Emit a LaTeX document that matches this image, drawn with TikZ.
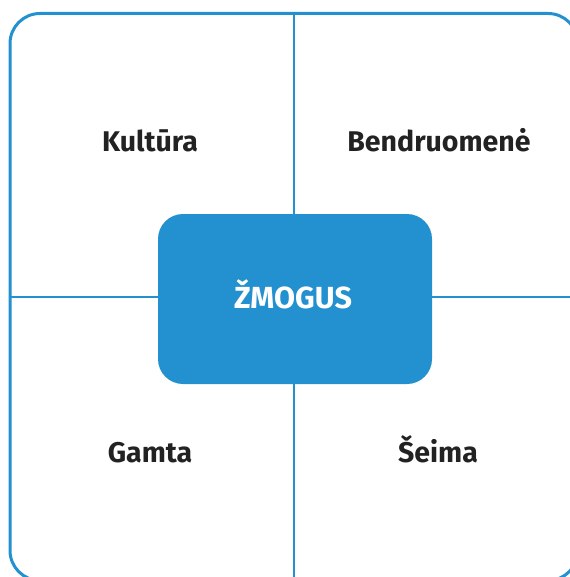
\documentclass[tikz,border=0pt]{standalone}
\usepackage{fontspec}
\setmainfont{Fira Sans}
\definecolor{frameblue}{RGB}{35,145,208}
\definecolor{textgray}{RGB}{34,34,34}

\begin{document}
\begin{tikzpicture}[x=1pt,y=-1pt]
\tikzstyle{every node}=[font=\bfseries\fontsize{28.5}{32}\selectfont, text=textgray, inner sep=0pt, anchor=base]
\useasboundingbox (0,0) rectangle (569,577);
\node[draw=frameblue, line width=3pt, rounded corners=30pt, anchor=center,
minimum width=568pt, minimum height=567pt] (frame) at (294,297) {};
\draw[frameblue, line width=2.3pt] (frame.north) -- (frame.south);
\draw[frameblue, line width=2.3pt] (frame.west) -- (frame.east);
\node[fill=frameblue, rounded corners=25pt, minimum width=274pt, anchor=center,
minimum height=170pt] (zmogus) at (295,299) {};
\node[text=white, font=\bfseries\fontsize{30.5}{34}\selectfont] (zmogustext) at (293,308) {ŽMOGUS};

\node (kultura) at (150,152) {Kultūra};
\node (bendruomene) at (439,152) {Bendruomenė};
\node (gamta) at (150,462) {Gamta};
\node (seima) at (438,462) {Šeima};

\end{tikzpicture}
\end{document}
